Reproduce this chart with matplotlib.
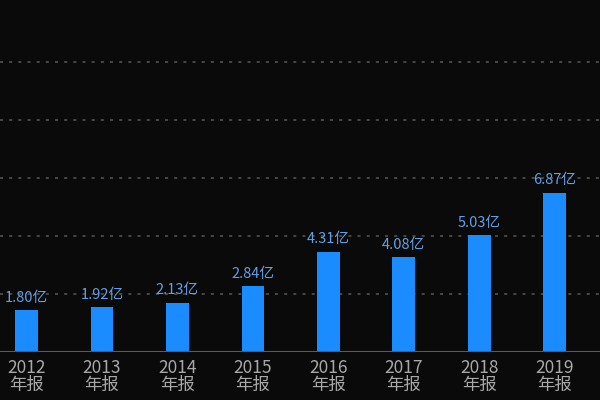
import matplotlib
matplotlib.use("Agg")
import matplotlib.pyplot as plt

plt.rcParams['font.family'] = ['Noto Sans CJK SC', 'DejaVu Sans']

years = ["2012", "2013", "2014", "2015", "2016", "2017", "2018", "2019"]
values = [1.80, 1.92, 2.13, 2.84, 4.31, 4.08, 5.03, 6.87]
value_labels = ["1.80亿", "1.92亿", "2.13亿", "2.84亿", "4.31亿", "4.08亿", "5.03亿", "6.87亿"]
tick_labels = [f"{y}\n年报" for y in years]
grid_levels = [2.5, 5.0, 7.5, 10.0, 12.5]

bg = '#0a0a0a'
fig = plt.figure(figsize=(6, 4), dpi=100, facecolor=bg)
ax = fig.add_axes([0, 0.12, 1, 0.88], facecolor=bg)

x = list(range(len(years)))
ax.bar(x, values, width=0.30, color='#1a8cff', zorder=3)

for g in grid_levels:
    ax.axhline(g, color='#585858', lw=1.1, ls=(0, (2, 4)), zorder=1)
ax.axhline(0, color='#5a5a5a', lw=1.5, zorder=4)

for xi, v, lab in zip(x, values, value_labels):
    ax.annotate(lab, (xi, v), xytext=(0, 4), textcoords='offset points',
                ha='center', va='bottom', color='#649fe3', fontsize=10.5, zorder=5)

ax.set_xlim(-0.35, 7.6)
ax.set_ylim(0, 15.17)
ax.set_xticks(x)
ax.set_xticklabels(tick_labels, color='#a8a8a8', fontsize=12.5, linespacing=0.95)
ax.tick_params(axis='x', length=0, pad=5)
ax.set_yticks([])
for s in ax.spines.values():
    s.set_visible(False)

fig.savefig('out.png', dpi=100, facecolor=bg)
